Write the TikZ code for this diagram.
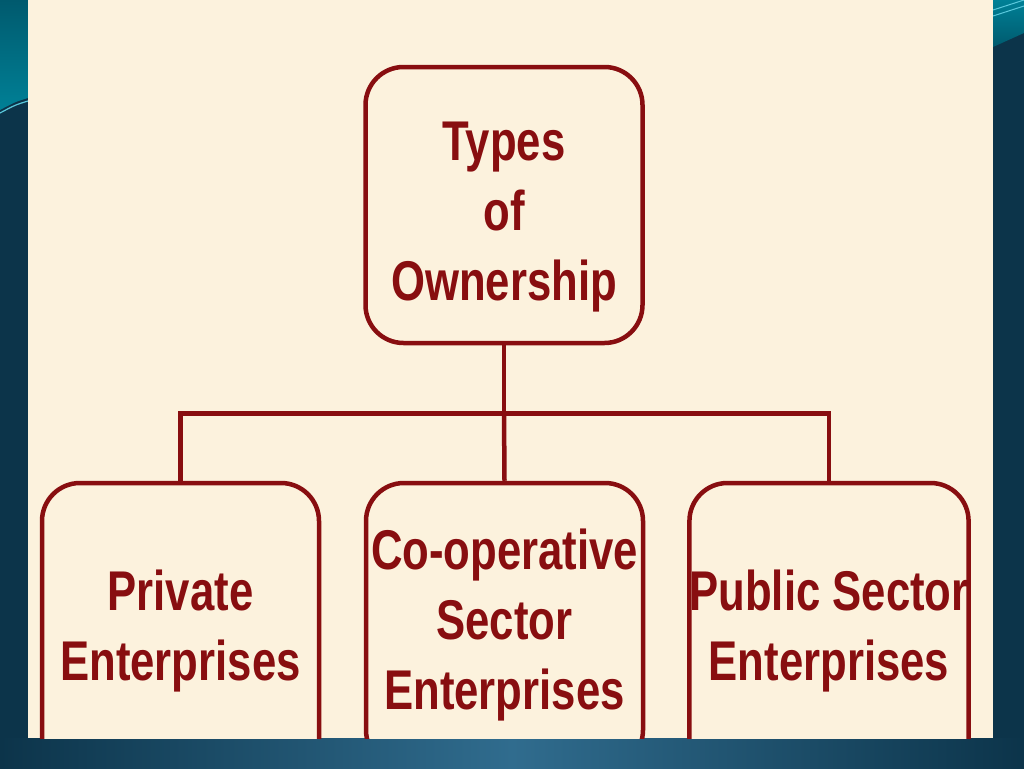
\documentclass[tikz,border=0pt]{standalone}
\usepackage{fontspec}
\setmainfont{Liberation Sans}[FakeStretch=0.78]
\definecolor{ownred}{RGB}{136,14,16}
\definecolor{paper}{RGB}{252,242,221}
\definecolor{slatedark}{RGB}{12,52,74}
\definecolor{slatelight}{RGB}{48,108,142}
\definecolor{tealdark}{RGB}{0,90,110}
\definecolor{teallight}{RGB}{0,128,150}
\definecolor{cyanline}{RGB}{90,200,220}
\tikzset{
  ownbox/.style={draw=ownred, line width=4.5pt, rounded corners=38pt, fill=paper,
    text=ownred, font=\bfseries\fontsize{56}{70}\selectfont, align=center,
    inner xsep=0pt, minimum width=277pt},
  link/.style={draw=ownred, line width=4.5pt}
}
\begin{document}
\begin{tikzpicture}[x=1pt,y=-1pt]
  \useasboundingbox (0,0) rectangle (1024,768);
  % backdrop
  \fill[slatedark] (0,0) rectangle (1024,768);
  \shade[top color=tealdark, bottom color=teallight] (0,0) -- (28,0) -- (28,98) .. controls (15,102) .. (0,110) -- cycle;
  \draw[cyanline, line width=1.2pt] (0,113) .. controls (15,105) .. (28,101);
  \shade[top color=teallight, bottom color=tealdark] (993,0) -- (1024,0) -- (1024,33) -- (993,47) -- cycle;
  \draw[cyanline, line width=1pt] (993,10) -- (1024,0);
  \draw[cyanline, line width=1pt] (993,16) -- (1024,6);
  \shade[left color=slatedark, right color=slatedark, middle color=slatelight] (0,738) rectangle (1024,768);
  \fill[paper] (28,0) rectangle (993,738);
  \begin{scope}
    \clip (28,0) rectangle (993,738);
    % boxes
    \node[ownbox, minimum height=276pt, text height=202pt] (types) at (504,205) {Types\\of\\Ownership};
    \node[ownbox, minimum height=296pt] (private) at (180.5,631) {Private\\Enterprises};
    \node[ownbox, minimum height=285pt] (coop) at (504.5,625.5) {Co-operative\\Sector\\Enterprises};
    \node[ownbox, minimum height=296pt] (public) at (829,631) {Public Sector\\Enterprises};
    % links
    \draw[link] (types.south) -- ++(0,68) coordinate (fork);
    \draw[link] (private.north) |- (fork) -| (public.north);
    \draw[link] (fork) -- (coop.north);
  \end{scope}
\end{tikzpicture}
\end{document}
